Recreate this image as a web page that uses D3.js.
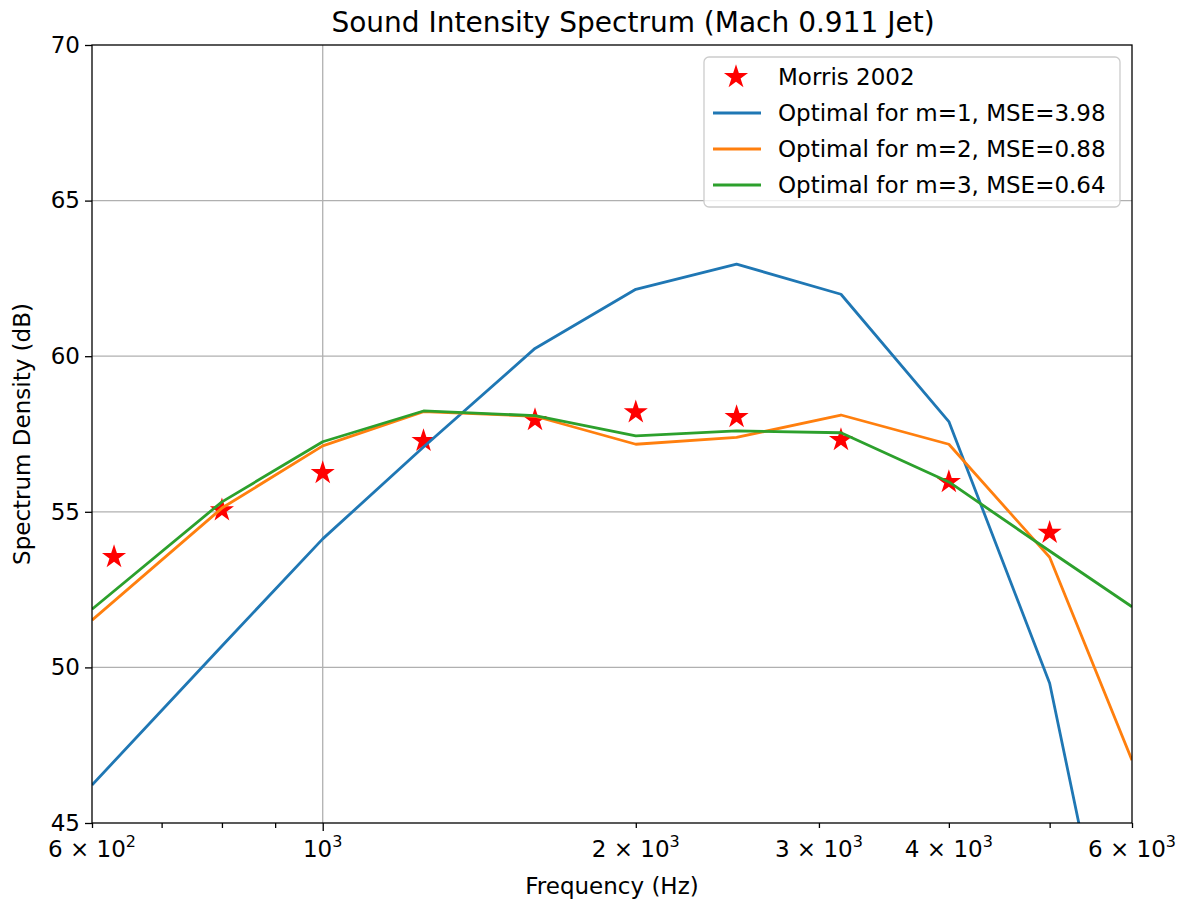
<!DOCTYPE html>
<html>
<head>
<meta charset="utf-8">
<script src="https://cdn.jsdelivr.net/npm/d3@7"></script>
<style>
  body { margin: 0; background: #fff; }
  text { font-family: "DejaVu Sans", sans-serif; fill: #000; }
</style>
</head>
<body>
<div id="chart"></div>
<script>
// Morris 2002 measurements (one-third octave bands)
const bandFreqs = [630, 800, 1000, 1250, 1600, 2000, 2500, 3150, 4000, 5000];
const morrisValues = [53.55, 55.05, 56.25, 57.28, 57.95, 58.2, 58.05, 57.31, 55.96, 54.33];

// fitted curves, read at the plot edges and band frequencies
const curveFreqs = [600, 800, 1000, 1250, 1600, 2000, 2500, 3150, 4000, 5000, 6000];
const m1Values = [46.22, 50.69, 54.13, 57.08, 60.25, 62.15, 62.96, 61.99, 57.9, 49.49, 36.8];
const m2Values = [51.52, 55.12, 57.12, 58.22, 58.07, 57.17, 57.39, 58.11, 57.17, 53.54, 47.02];
const m3Values = [51.87, 55.32, 57.25, 58.24, 58.09, 57.44, 57.6, 57.54, 55.96, 53.74, 51.95];

const seriesNames = ["Optimal for m=1, MSE=3.98", "Optimal for m=2, MSE=0.88", "Optimal for m=3, MSE=0.64"];
const seriesColors = ["#1f77b4", "#ff7f0e", "#2ca02c"];

const yTicks = [45, 50, 55, 60, 65, 70];
const xMajorTicks = [1000];
const xMinorTicks = [600, 700, 800, 900, 2000, 3000, 4000, 5000, 6000];
// label text: [mantissa part, exponent]
const xTickLabels = {600: ["6 \u00d7 10", "2"], 1000: ["10", "3"], 2000: ["2 \u00d7 10", "3"],
                     3000: ["3 \u00d7 10", "3"], 4000: ["4 \u00d7 10", "3"], 6000: ["6 \u00d7 10", "3"]};

const width = 1183, height = 904;
const margin = {top: 45, right: 51, bottom: 81, left: 92};
const plotW = width - margin.left - margin.right;
const plotH = height - margin.top - margin.bottom;
const fs = 23;

const svg = d3.select("#chart").append("svg")
  .attr("width", width)
  .attr("height", height);

const x = d3.scaleLog().domain([600, 6000]).range([0, plotW]);
const y = d3.scaleLinear().domain([45, 70]).range([plotH, 0]);

const g = svg.append("g").attr("transform", `translate(${margin.left},${margin.top})`);

svg.append("defs").append("clipPath").attr("id", "plotClip")
  .append("rect").attr("width", plotW).attr("height", plotH);

// grid
g.append("g").selectAll("line.hgrid").data(yTicks.slice(1, -1)).enter().append("line")
  .attr("x1", 0).attr("x2", plotW)
  .attr("y1", d => y(d)).attr("y2", d => y(d))
  .attr("stroke", "#b0b0b0").attr("stroke-width", 1.3);
g.append("g").selectAll("line.vgrid").data(xMajorTicks).enter().append("line")
  .attr("x1", d => x(d)).attr("x2", d => x(d))
  .attr("y1", 0).attr("y2", plotH)
  .attr("stroke", "#b0b0b0").attr("stroke-width", 1.3);

// data
const plot = g.append("g").attr("clip-path", "url(#plotClip)");

plot.selectAll("path.star").data(bandFreqs).enter().append("path")
  .attr("d", d3.symbol(d3.symbolStar, 180))
  .attr("transform", (d, i) => `translate(${x(d)},${y(morrisValues[i])})`)
  .attr("fill", "red");

const line = d3.line().x(d => x(d[0])).y(d => y(d[1]));
[m1Values, m2Values, m3Values].forEach((vals, k) => {
  plot.append("path")
    .datum(curveFreqs.map((f, i) => [f, vals[i]]))
    .attr("d", line)
    .attr("fill", "none")
    .attr("stroke", seriesColors[k])
    .attr("stroke-width", 2.8)
    .attr("stroke-linejoin", "round");
});

// axes
const xMinor = g.append("g").attr("transform", `translate(0,${plotH})`)
  .call(d3.axisBottom(x).tickValues(xMinorTicks).tickSize(5).tickFormat(""));
const xMajor = g.append("g").attr("transform", `translate(0,${plotH})`)
  .call(d3.axisBottom(x).tickValues(xMajorTicks).tickSize(8).tickFormat(""));
[xMinor, xMajor].forEach(ax => {
  ax.select(".domain").remove();
  ax.selectAll("line").attr("stroke", "#000").attr("stroke-width", 1.3);
});

const labels = g.append("g").attr("transform", `translate(0,${plotH})`);
Object.keys(xTickLabels).forEach(k => {
  const v = +k, lab = xTickLabels[k];
  const t = labels.append("text")
    .attr("x", x(v)).attr("y", 34)
    .attr("text-anchor", "middle")
    .attr("font-size", fs);
  t.append("tspan").text(lab[0]);
  t.append("tspan").attr("font-size", 16).attr("dy", -10).text(lab[1]);
});

const yAxis = g.append("g")
  .call(d3.axisLeft(y).tickValues(yTicks).tickSize(7).tickPadding(5));
yAxis.select(".domain").remove();
yAxis.selectAll("line").attr("stroke", "#000").attr("stroke-width", 1.3);
yAxis.selectAll("text").attr("font-size", fs).attr("font-family", "DejaVu Sans").attr("fill", "#000");

// frame
g.append("rect").attr("width", plotW).attr("height", plotH)
  .attr("fill", "none").attr("stroke", "#000").attr("stroke-width", 1.3);

// titles
svg.append("text").attr("x", 633).attr("y", 32)
  .attr("text-anchor", "middle").attr("font-size", 28)
  .text("Sound Intensity Spectrum (Mach 0.911 Jet)");
svg.append("text").attr("x", margin.left + plotW / 2).attr("y", 894)
  .attr("text-anchor", "middle").attr("font-size", fs)
  .text("Frequency (Hz)");
svg.append("text")
  .attr("transform", `translate(30,${margin.top + plotH / 2}) rotate(-90)`)
  .attr("text-anchor", "middle").attr("font-size", fs)
  .text("Spectrum Density (dB)");

// legend
const legend = svg.append("g").attr("transform", "translate(704,57)");
legend.append("rect").attr("width", 416).attr("height", 150).attr("rx", 5)
  .attr("fill", "#fff").attr("fill-opacity", 0.8)
  .attr("stroke", "#cccccc").attr("stroke-width", 1.3);
const rowY = [20, 56, 92, 128];
legend.append("path")
  .attr("d", d3.symbol(d3.symbolStar, 180))
  .attr("transform", `translate(32,${rowY[0]})`)
  .attr("fill", "red");
legend.append("text").attr("x", 74).attr("y", rowY[0] + 8).attr("font-size", fs).text("Morris 2002");
seriesNames.forEach((name, i) => {
  legend.append("line")
    .attr("x1", 9).attr("x2", 57)
    .attr("y1", rowY[i + 1]).attr("y2", rowY[i + 1])
    .attr("stroke", seriesColors[i]).attr("stroke-width", 2.8);
  legend.append("text").attr("x", 74).attr("y", rowY[i + 1] + 8).attr("font-size", fs).text(name);
});
</script>
</body>
</html>
